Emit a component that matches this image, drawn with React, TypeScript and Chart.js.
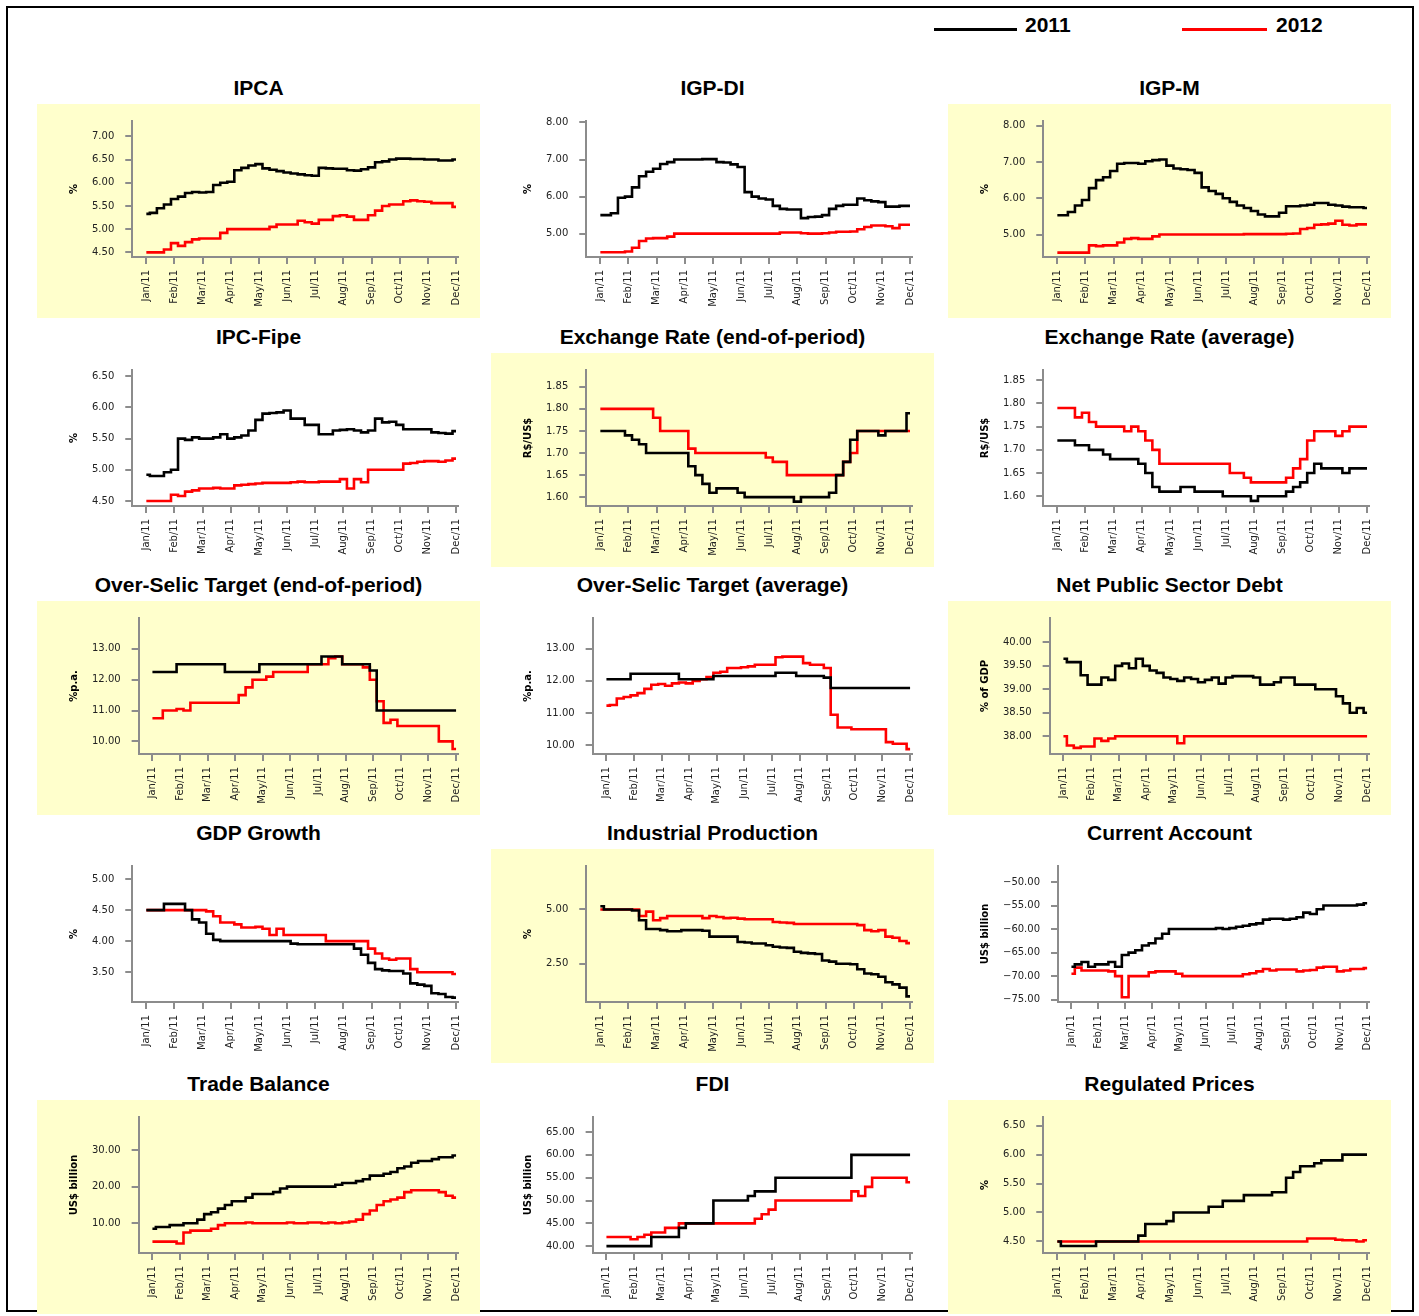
import React, { useEffect, useRef } from "react";
import { Chart, registerables } from "chart.js";

Chart.register(...registerables);

// ---------- categories / tick labels ----------
const MONTHS = ["Jan/11", "Feb/11", "Mar/11", "Apr/11", "May/11", "Jun/11", "Jul/11", "Aug/11", "Sep/11", "Oct/11", "Nov/11", "Dec/11"];
const LEGEND = ["2011", "2012"];

// ---------- series (weekly readings, 4 per month, Jan/11 .. Dec/11) ----------
const ipca2011 = [5.33, 5.35, 5.45, 5.53, 5.65, 5.70, 5.78, 5.80, 5.79, 5.80, 5.95, 6.00, 6.02, 6.27, 6.32, 6.37, 6.40, 6.31, 6.28, 6.25, 6.22, 6.20, 6.18, 6.16, 6.15, 6.32, 6.31, 6.30, 6.30, 6.27, 6.26, 6.29, 6.33, 6.44, 6.46, 6.50, 6.52, 6.52, 6.51, 6.51, 6.50, 6.50, 6.48, 6.48, 6.50];
const ipca2012 = [4.50, 4.50, 4.50, 4.56, 4.70, 4.64, 4.72, 4.78, 4.80, 4.80, 4.80, 4.92, 5.00, 5.00, 5.00, 5.00, 5.00, 5.00, 5.05, 5.10, 5.10, 5.10, 5.18, 5.15, 5.12, 5.20, 5.20, 5.28, 5.30, 5.27, 5.20, 5.20, 5.30, 5.40, 5.50, 5.53, 5.53, 5.60, 5.62, 5.60, 5.59, 5.56, 5.56, 5.56, 5.48];

const igpdi2011 = [5.50, 5.50, 5.55, 5.97, 6.00, 6.25, 6.55, 6.67, 6.75, 6.88, 6.93, 7.00, 7.00, 7.00, 7.00, 7.01, 7.01, 6.93, 6.92, 6.87, 6.80, 6.12, 6.00, 5.95, 5.92, 5.75, 5.67, 5.65, 5.65, 5.42, 5.45, 5.46, 5.50, 5.67, 5.75, 5.78, 5.78, 5.95, 5.90, 5.87, 5.85, 5.73, 5.73, 5.75, 5.75];
const igpdi2012 = [4.50, 4.50, 4.50, 4.50, 4.52, 4.62, 4.80, 4.87, 4.88, 4.88, 4.92, 5.00, 5.00, 5.00, 5.00, 5.00, 5.00, 5.00, 5.00, 5.00, 5.00, 5.00, 5.00, 5.00, 5.00, 5.00, 5.03, 5.03, 5.03, 5.01, 5.00, 5.00, 5.01, 5.03, 5.05, 5.05, 5.06, 5.12, 5.18, 5.22, 5.22, 5.20, 5.15, 5.24, 5.24];

const igpm2011 = [5.53, 5.53, 5.62, 5.80, 5.95, 6.28, 6.50, 6.58, 6.75, 6.95, 6.97, 6.97, 6.95, 7.02, 7.05, 7.07, 6.90, 6.82, 6.80, 6.78, 6.70, 6.30, 6.20, 6.12, 6.00, 5.90, 5.80, 5.73, 5.65, 5.55, 5.50, 5.50, 5.60, 5.78, 5.78, 5.80, 5.82, 5.87, 5.87, 5.82, 5.80, 5.77, 5.75, 5.75, 5.73];
const igpm2012 = [4.50, 4.50, 4.50, 4.50, 4.50, 4.70, 4.68, 4.70, 4.70, 4.78, 4.88, 4.90, 4.88, 4.88, 4.95, 5.00, 5.00, 5.00, 5.00, 5.00, 5.00, 5.00, 5.00, 5.00, 5.00, 5.00, 5.00, 5.01, 5.01, 5.01, 5.01, 5.01, 5.01, 5.02, 5.03, 5.15, 5.18, 5.27, 5.28, 5.30, 5.38, 5.27, 5.25, 5.28, 5.28];

const fipe2011 = [4.92, 4.90, 4.90, 4.96, 5.00, 5.50, 5.48, 5.52, 5.50, 5.50, 5.52, 5.57, 5.50, 5.52, 5.55, 5.63, 5.80, 5.90, 5.91, 5.92, 5.95, 5.82, 5.82, 5.72, 5.72, 5.57, 5.57, 5.63, 5.64, 5.65, 5.63, 5.60, 5.63, 5.82, 5.76, 5.77, 5.72, 5.65, 5.65, 5.65, 5.65, 5.60, 5.59, 5.58, 5.62];
const fipe2012 = [4.50, 4.50, 4.50, 4.50, 4.60, 4.58, 4.65, 4.67, 4.70, 4.70, 4.71, 4.70, 4.70, 4.75, 4.76, 4.77, 4.78, 4.79, 4.79, 4.79, 4.79, 4.80, 4.81, 4.80, 4.80, 4.81, 4.81, 4.81, 4.85, 4.70, 4.85, 4.80, 5.00, 5.00, 5.00, 5.00, 5.00, 5.10, 5.11, 5.13, 5.14, 5.14, 5.13, 5.15, 5.18];

const fxEnd2011 = [1.75, 1.75, 1.75, 1.75, 1.74, 1.73, 1.72, 1.70, 1.70, 1.70, 1.70, 1.70, 1.70, 1.67, 1.65, 1.63, 1.61, 1.62, 1.62, 1.62, 1.61, 1.60, 1.60, 1.60, 1.60, 1.60, 1.60, 1.60, 1.59, 1.60, 1.60, 1.60, 1.60, 1.61, 1.65, 1.68, 1.73, 1.75, 1.75, 1.75, 1.74, 1.75, 1.75, 1.75, 1.79];
const fxEnd2012 = [1.80, 1.80, 1.80, 1.80, 1.80, 1.80, 1.80, 1.80, 1.78, 1.75, 1.75, 1.75, 1.75, 1.71, 1.70, 1.70, 1.70, 1.70, 1.70, 1.70, 1.70, 1.70, 1.70, 1.70, 1.69, 1.68, 1.68, 1.65, 1.65, 1.65, 1.65, 1.65, 1.65, 1.65, 1.65, 1.68, 1.70, 1.75, 1.75, 1.75, 1.75, 1.75, 1.75, 1.75, 1.75];

const fxAvg2011 = [1.72, 1.72, 1.72, 1.71, 1.71, 1.70, 1.70, 1.69, 1.68, 1.68, 1.68, 1.68, 1.67, 1.65, 1.62, 1.61, 1.61, 1.61, 1.62, 1.62, 1.61, 1.61, 1.61, 1.61, 1.60, 1.60, 1.60, 1.60, 1.59, 1.60, 1.60, 1.60, 1.60, 1.61, 1.62, 1.63, 1.65, 1.67, 1.66, 1.66, 1.66, 1.65, 1.66, 1.66, 1.66];
const fxAvg2012 = [1.79, 1.79, 1.79, 1.77, 1.78, 1.76, 1.75, 1.75, 1.75, 1.75, 1.74, 1.75, 1.74, 1.72, 1.70, 1.67, 1.67, 1.67, 1.67, 1.67, 1.67, 1.67, 1.67, 1.67, 1.67, 1.65, 1.65, 1.64, 1.63, 1.63, 1.63, 1.63, 1.63, 1.64, 1.66, 1.68, 1.72, 1.74, 1.74, 1.74, 1.73, 1.74, 1.75, 1.75, 1.75];

const selicEnd2011 = [12.25, 12.25, 12.25, 12.25, 12.50, 12.50, 12.50, 12.50, 12.50, 12.50, 12.50, 12.25, 12.25, 12.25, 12.25, 12.25, 12.50, 12.50, 12.50, 12.50, 12.50, 12.50, 12.50, 12.50, 12.50, 12.75, 12.75, 12.75, 12.50, 12.50, 12.50, 12.50, 12.30, 11.00, 11.00, 11.00, 11.00, 11.00, 11.00, 11.00, 11.00, 11.00, 11.00, 11.00, 11.00];
const selicEnd2012 = [10.75, 10.75, 11.00, 11.00, 11.05, 11.00, 11.25, 11.25, 11.25, 11.25, 11.25, 11.25, 11.25, 11.50, 11.75, 12.00, 12.00, 12.10, 12.25, 12.25, 12.25, 12.25, 12.25, 12.50, 12.50, 12.50, 12.70, 12.75, 12.50, 12.50, 12.50, 12.40, 12.00, 11.30, 10.60, 10.70, 10.50, 10.50, 10.50, 10.50, 10.50, 10.50, 10.00, 10.00, 9.75];

const selicAvg2011 = [12.05, 12.05, 12.05, 12.05, 12.22, 12.22, 12.22, 12.22, 12.22, 12.22, 12.22, 12.05, 12.05, 12.05, 12.05, 12.05, 12.15, 12.15, 12.15, 12.15, 12.15, 12.15, 12.15, 12.15, 12.15, 12.25, 12.25, 12.25, 12.15, 12.15, 12.15, 12.15, 12.10, 11.78, 11.78, 11.78, 11.78, 11.78, 11.78, 11.78, 11.78, 11.78, 11.78, 11.78, 11.78];
const selicAvg2012 = [11.23, 11.25, 11.45, 11.50, 11.55, 11.62, 11.75, 11.88, 11.90, 11.85, 11.92, 11.95, 11.92, 12.00, 12.05, 12.12, 12.25, 12.28, 12.40, 12.40, 12.42, 12.45, 12.50, 12.50, 12.50, 12.73, 12.75, 12.75, 12.75, 12.55, 12.50, 12.50, 12.40, 10.95, 10.55, 10.55, 10.50, 10.50, 10.50, 10.50, 10.50, 10.10, 10.05, 10.05, 9.88];

const debt2011 = [39.65, 39.58, 39.58, 39.30, 39.10, 39.10, 39.25, 39.20, 39.50, 39.55, 39.45, 39.65, 39.50, 39.40, 39.35, 39.25, 39.22, 39.18, 39.25, 39.22, 39.15, 39.20, 39.25, 39.12, 39.25, 39.28, 39.28, 39.28, 39.25, 39.10, 39.10, 39.15, 39.25, 39.25, 39.10, 39.10, 39.10, 39.00, 39.00, 39.00, 38.85, 38.70, 38.50, 38.60, 38.50];
const debt2012 = [38.00, 37.80, 37.75, 37.78, 37.78, 37.95, 37.90, 37.95, 38.00, 38.00, 38.00, 38.00, 38.00, 38.00, 38.00, 38.00, 38.00, 37.85, 38.00, 38.00, 38.00, 38.00, 38.00, 38.00, 38.00, 38.00, 38.00, 38.00, 38.00, 38.00, 38.00, 38.00, 38.00, 38.00, 38.00, 38.00, 38.00, 38.00, 38.00, 38.00, 38.00, 38.00, 38.00, 38.00, 38.00];

const gdp2011 = [4.50, 4.50, 4.50, 4.60, 4.60, 4.60, 4.50, 4.35, 4.30, 4.12, 4.02, 4.00, 4.00, 4.00, 4.00, 4.00, 4.00, 4.00, 4.00, 4.00, 4.00, 3.96, 3.95, 3.95, 3.95, 3.95, 3.95, 3.95, 3.95, 3.95, 3.88, 3.78, 3.65, 3.55, 3.53, 3.52, 3.52, 3.48, 3.32, 3.30, 3.28, 3.16, 3.15, 3.10, 3.09];
const gdp2012 = [4.50, 4.50, 4.50, 4.50, 4.50, 4.50, 4.50, 4.50, 4.50, 4.48, 4.40, 4.30, 4.30, 4.27, 4.22, 4.22, 4.23, 4.20, 4.10, 4.20, 4.10, 4.10, 4.10, 4.10, 4.10, 4.10, 4.00, 4.00, 4.00, 4.00, 4.00, 4.00, 3.88, 3.80, 3.72, 3.70, 3.72, 3.72, 3.55, 3.50, 3.50, 3.50, 3.50, 3.50, 3.47];

const ind2011 = [5.15, 5.00, 5.00, 5.00, 5.00, 4.95, 4.50, 4.10, 4.10, 4.05, 4.00, 4.00, 4.05, 4.05, 4.05, 4.02, 3.75, 3.75, 3.75, 3.75, 3.50, 3.48, 3.43, 3.43, 3.35, 3.28, 3.25, 3.23, 3.05, 3.00, 2.98, 2.95, 2.65, 2.60, 2.50, 2.50, 2.48, 2.25, 2.05, 2.02, 1.90, 1.65, 1.55, 1.40, 1.00];
const ind2012 = [5.00, 5.00, 5.00, 5.00, 5.00, 5.00, 4.70, 4.90, 4.50, 4.60, 4.70, 4.70, 4.70, 4.70, 4.70, 4.60, 4.70, 4.65, 4.60, 4.62, 4.58, 4.55, 4.55, 4.55, 4.55, 4.42, 4.40, 4.38, 4.33, 4.33, 4.33, 4.33, 4.33, 4.33, 4.33, 4.33, 4.33, 4.28, 4.05, 4.00, 4.05, 3.75, 3.70, 3.55, 3.45];

const ca2011 = [-68.0, -67.5, -67.0, -68.0, -67.5, -67.5, -67.0, -68.0, -65.5, -65.0, -64.5, -63.5, -63.0, -62.0, -61.0, -60.0, -60.0, -60.0, -60.0, -60.0, -60.0, -60.0, -59.8, -60.0, -59.8, -59.5, -59.3, -59.0, -58.8, -58.0, -57.8, -57.8, -58.0, -57.8, -57.5, -56.5, -56.8, -55.8, -55.0, -55.0, -55.0, -55.0, -55.0, -54.8, -54.5];
const ca2012 = [-69.5, -68.2, -68.8, -68.8, -68.8, -68.8, -69.0, -70.0, -74.5, -70.0, -70.0, -70.0, -69.2, -69.0, -69.0, -69.0, -69.5, -70.0, -70.0, -70.0, -70.0, -70.0, -70.0, -70.0, -70.0, -70.0, -69.6, -69.4, -69.0, -68.5, -68.8, -68.6, -68.6, -68.6, -69.0, -68.8, -68.7, -68.2, -68.0, -68.0, -69.0, -68.8, -68.5, -68.5, -68.3];

const trade2011 = [8.5, 9.0, 9.0, 9.5, 9.5, 10.0, 10.0, 11.0, 12.5, 13.0, 14.0, 15.0, 16.0, 16.0, 17.0, 18.0, 18.0, 18.0, 18.5, 19.5, 20.0, 20.0, 20.0, 20.0, 20.0, 20.0, 20.0, 20.5, 21.0, 21.0, 21.5, 22.0, 23.0, 23.0, 23.5, 24.0, 25.0, 25.5, 26.5, 27.0, 27.0, 27.5, 28.0, 28.0, 28.5];
const trade2012 = [5.0, 5.0, 5.0, 5.0, 4.5, 7.5, 8.0, 8.0, 8.0, 8.5, 9.5, 10.0, 10.0, 10.0, 10.2, 10.0, 10.0, 10.0, 10.0, 10.0, 10.2, 10.0, 10.0, 10.2, 10.2, 10.0, 10.2, 10.0, 10.2, 10.5, 11.0, 12.5, 13.5, 15.0, 16.0, 16.5, 17.0, 18.5, 19.0, 19.0, 19.0, 19.0, 18.5, 17.5, 17.0];

const fdi2011 = [40, 40, 40, 40, 40, 40, 40, 42, 42, 42, 42, 44, 45, 45, 45, 45, 50, 50, 50, 50, 50, 51, 52, 52, 52, 55, 55, 55, 55, 55, 55, 55, 55, 55, 55, 55, 60, 60, 60, 60, 60, 60, 60, 60, 60];
const fdi2012 = [42, 42, 42, 42, 41.5, 42, 42.5, 43, 43, 44, 44, 45, 45, 45, 45, 45, 45, 45, 45, 45, 45, 45, 46, 47, 48, 50, 50, 50, 50, 50, 50, 50, 50, 50, 50, 50, 52, 51, 53, 55, 55, 55, 55, 55, 54];

const reg2011 = [4.50, 4.42, 4.42, 4.42, 4.42, 4.42, 4.50, 4.50, 4.50, 4.50, 4.50, 4.50, 4.60, 4.80, 4.80, 4.80, 4.85, 5.00, 5.00, 5.00, 5.00, 5.00, 5.10, 5.10, 5.20, 5.20, 5.20, 5.30, 5.30, 5.30, 5.30, 5.35, 5.35, 5.60, 5.70, 5.80, 5.80, 5.85, 5.90, 5.90, 5.90, 6.00, 6.00, 6.00, 6.00];
const reg2012 = [4.50, 4.50, 4.50, 4.50, 4.50, 4.50, 4.50, 4.50, 4.50, 4.50, 4.50, 4.50, 4.50, 4.50, 4.50, 4.50, 4.50, 4.50, 4.50, 4.50, 4.50, 4.50, 4.50, 4.50, 4.50, 4.50, 4.50, 4.50, 4.50, 4.50, 4.50, 4.50, 4.50, 4.50, 4.50, 4.50, 4.55, 4.55, 4.55, 4.55, 4.53, 4.52, 4.52, 4.50, 4.52];

// ---------- y tick values ----------
const ticksIpca = [4.5, 5.0, 5.5, 6.0, 6.5, 7.0];
const ticksIgp = [5, 6, 7, 8];
const ticksFipe = [4.5, 5.0, 5.5, 6.0, 6.5];
const ticksFx = [1.6, 1.65, 1.7, 1.75, 1.8, 1.85];
const ticksSelic = [10, 11, 12, 13];
const ticksDebt = [38.0, 38.5, 39.0, 39.5, 40.0];
const ticksGdp = [3.5, 4.0, 4.5, 5.0];
const ticksInd = [2.5, 5.0];
const ticksCa = [-75, -70, -65, -60, -55, -50];
const ticksTrade = [10, 20, 30];
const ticksFdi = [40, 45, 50, 55, 60, 65];
const ticksReg = [4.5, 5.0, 5.5, 6.0, 6.5];

type PanelDef = {
  title: string;
  unit: string;
  a: number[];
  b: number[];
  min: number;
  max: number;
  ticks: number[];
};

const PANELS: PanelDef[] = [
  { title: "IPCA", unit: "%", a: ipca2011, b: ipca2012, min: 4.4, max: 7.33, ticks: ticksIpca },
  { title: "IGP-DI", unit: "%", a: igpdi2011, b: igpdi2012, min: 4.37, max: 8.04, ticks: ticksIgp },
  { title: "IGP-M", unit: "%", a: igpm2011, b: igpm2012, min: 4.38, max: 8.13, ticks: ticksIgp },
  { title: "IPC-Fipe", unit: "%", a: fipe2011, b: fipe2012, min: 4.42, max: 6.6, ticks: ticksFipe },
  { title: "Exchange Rate (end-of-period)", unit: "R$/US$", a: fxEnd2011, b: fxEnd2012, min: 1.58, max: 1.888, ticks: ticksFx },
  { title: "Exchange Rate (average)", unit: "R$/US$", a: fxAvg2011, b: fxAvg2012, min: 1.579, max: 1.872, ticks: ticksFx },
  { title: "Over-Selic Target (end-of-period)", unit: "%p.a.", a: selicEnd2011, b: selicEnd2012, min: 9.59, max: 14.0, ticks: ticksSelic },
  { title: "Over-Selic Target (average)", unit: "%p.a.", a: selicAvg2011, b: selicAvg2012, min: 9.73, max: 13.95, ticks: ticksSelic },
  { title: "Net Public Sector Debt", unit: "% of GDP", a: debt2011, b: debt2012, min: 37.62, max: 40.52, ticks: ticksDebt },
  { title: "GDP Growth", unit: "%", a: gdp2011, b: gdp2012, min: 3.02, max: 5.21, ticks: ticksGdp },
  { title: "Industrial Production", unit: "%", a: ind2011, b: ind2012, min: 0.74, max: 7.0, ticks: ticksInd },
  { title: "Current Account", unit: "US$ billion", a: ca2011, b: ca2012, min: -75.5, max: -46.6, ticks: ticksCa },
  { title: "Trade Balance", unit: "US$ billion", a: trade2011, b: trade2012, min: 1.9, max: 39, ticks: ticksTrade },
  { title: "FDI", unit: "US$ billion", a: fdi2011, b: fdi2012, min: 38.5, max: 68.3, ticks: ticksFdi },
  { title: "Regulated Prices", unit: "%", a: reg2011, b: reg2012, min: 4.3, max: 6.65, ticks: ticksReg },
];

// ---------- layout ----------
const COL_X = [37, 491, 948];
const ROW_Y = [104, 353, 601, 849, 1100];
const PW = 443;
const PH = 214;
const SHADE = "#ffffcc";
const AXIS = "#8c8c8c";
const TICK_FONT = { family: "DejaVu Sans", size: 10 };

function toPoints(arr: number[]) {
  return arr.map((y, i) => ({ x: i / 4, y }));
}

function fmt(v: number) {
  const s = Math.abs(v).toFixed(2);
  return v < 0 ? "\u2212" + s : s;
}

function Panel({ p, left, top, shaded }: { p: PanelDef; left: number; top: number; shaded: boolean }) {
  const ref = useRef<HTMLCanvasElement>(null);
  useEffect(() => {
    const chart = new Chart(ref.current as HTMLCanvasElement, {
      type: "line",
      data: {
        datasets: [
          { label: LEGEND[0], data: toPoints(p.a), borderColor: "#000000", borderWidth: 2.6, pointRadius: 0, stepped: "middle", fill: false },
          { label: LEGEND[1], data: toPoints(p.b), borderColor: "#ff0000", borderWidth: 2.6, pointRadius: 0, stepped: "middle", fill: false },
        ],
      },
      options: {
        animation: false,
        responsive: false,
        maintainAspectRatio: false,
        events: [],
        layout: { padding: { left: 27, right: 22, top: 11, bottom: 0 } },
        plugins: { legend: { display: false }, tooltip: { enabled: false } },
        scales: {
          x: {
            type: "linear",
            min: -0.5,
            max: 11.07,
            afterBuildTicks: (s: any) => {
              s.ticks = MONTHS.map((_, i) => ({ value: i }));
            },
            afterFit: (s: any) => {
              s.height = 61;
            },
            ticks: {
              callback: (v: any) => MONTHS[Math.round(Number(v))],
              autoSkip: false,
              minRotation: 90,
              maxRotation: 90,
              padding: 6,
              font: TICK_FONT,
              color: "#222222",
            },
            grid: { display: true, drawOnChartArea: false, drawTicks: true, tickLength: 7, color: AXIS, lineWidth: 2 },
            border: { display: true, color: AXIS, width: 2 },
          },
          y: {
            type: "linear",
            min: p.min,
            max: p.max,
            afterBuildTicks: (s: any) => {
              s.ticks = p.ticks.map((v) => ({ value: v }));
            },
            ticks: {
              callback: (v: any) => fmt(Number(v)),
              padding: 11,
              font: TICK_FONT,
              color: "#222222",
            },
            title: {
              display: true,
              text: p.unit,
              font: { family: "DejaVu Sans", size: 10, weight: "bold" },
              color: "#000000",
              padding: { top: 4, bottom: 1 },
            },
            grid: { display: true, drawOnChartArea: false, drawTicks: true, tickLength: 7, color: AXIS, lineWidth: 2 },
            border: { display: true, color: AXIS, width: 2 },
          },
        },
      },
    } as any);
    return () => chart.destroy();
  }, [p]);

  return (
    <>
      <div
        style={{
          position: "absolute",
          left,
          top,
          width: PW,
          height: PH,
          background: shaded ? SHADE : "transparent",
        }}
      />
      <div
        style={{
          position: "absolute",
          left,
          top: top - 28,
          width: PW,
          textAlign: "center",
          font: "bold 21px 'Liberation Sans', Arial, sans-serif",
          lineHeight: "24px",
          color: "#000",
          whiteSpace: "nowrap",
        }}
      >
        {p.title}
      </div>
      <canvas
        ref={ref}
        width={PW}
        height={PH}
        style={{ position: "absolute", left, top, width: PW, height: PH }}
      />
    </>
  );
}

export default function App() {
  return (
    <div style={{ position: "absolute", left: 0, top: 0, width: 1419, height: 1316, background: "#fff", overflow: "hidden" }}>
      <div
        style={{
          position: "absolute",
          left: 6,
          top: 6,
          width: 1408,
          height: 1306,
          border: "2px solid #000",
          boxSizing: "border-box",
        }}
      />
      {/* legend */}
      <div style={{ position: "absolute", left: 934, top: 28, width: 83, height: 3, background: "#000" }} />
      <div style={{ position: "absolute", left: 1025, top: 13, font: "bold 21px 'Liberation Sans', Arial, sans-serif", lineHeight: "24px" }}>
        {LEGEND[0]}
      </div>
      <div style={{ position: "absolute", left: 1182, top: 28, width: 85, height: 3, background: "#ff0000" }} />
      <div style={{ position: "absolute", left: 1276, top: 13, font: "bold 21px 'Liberation Sans', Arial, sans-serif", lineHeight: "24px" }}>
        {LEGEND[1]}
      </div>
      {PANELS.map((p, i) => {
        const r = Math.floor(i / 3);
        const c = i % 3;
        return <Panel key={p.title} p={p} left={COL_X[c]} top={ROW_Y[r]} shaded={(r + c) % 2 === 0} />;
      })}
    </div>
  );
}
